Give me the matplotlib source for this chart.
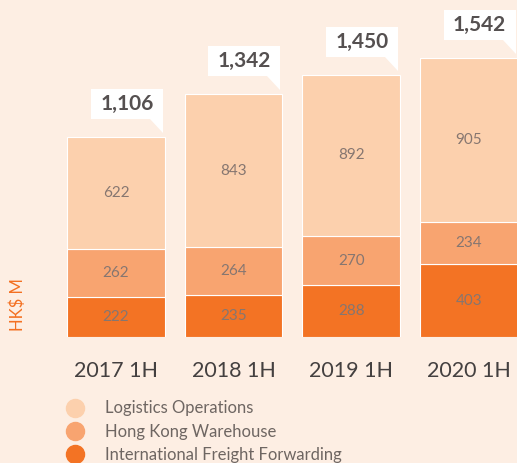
import numpy as np
import matplotlib.pyplot as plt
from matplotlib.patches import Polygon
from matplotlib.lines import Line2D

plt.rcParams['font.family'] = ['Lato', 'DejaVu Sans']

periods = ['2017 1H', '2018 1H', '2019 1H', '2020 1H']
freight = [222, 235, 288, 403]
warehouse = [262, 264, 270, 234]
logistics = [622, 843, 892, 905]
series_names = ['Logistics Operations', 'Hong Kong Warehouse', 'International Freight Forwarding']

bg = '#FDEEE3'
c_log = '#FCD0AD'
c_wh = '#F8A470'
c_ff = '#F37324'

fig = plt.figure(figsize=(5.17, 4.63), dpi=100, facecolor=bg)
# axes spans full width, from y=337px (bar base) up to the top edge
ax = fig.add_axes([0, (463 - 337) / 463, 1, 337 / 463])
ax.set_facecolor(bg)

x = np.arange(len(periods))
w = 0.83
totals = [a + b + c for a, b, c in zip(freight, warehouse, logistics)]

ax.bar(x, freight, w, color=c_ff, edgecolor='white', linewidth=0.8)
ax.bar(x, warehouse, w, bottom=freight, color=c_wh, edgecolor='white', linewidth=0.8)
bot2 = [a + b for a, b in zip(freight, warehouse)]
ax.bar(x, logistics, w, bottom=bot2, color=c_log, edgecolor='white', linewidth=0.8)

for i in range(len(periods)):
    for val, base in [(freight[i], 0), (warehouse[i], freight[i]), (logistics[i], bot2[i])]:
        ax.text(x[i], base + val / 2, str(val), ha='center', va='center',
                fontsize=11, color='#867670')

# callout boxes with totals
bw, bh = 0.612, 166
gap, tail = 100, 77
for i, t in enumerate(totals):
    right = x[i] + w / 2 - 0.017
    left = right - bw
    y0 = t + gap
    ax.add_patch(Polygon([(left, y0), (right, y0), (right, y0 + bh), (left, y0 + bh)],
                         closed=True, facecolor='white', edgecolor='none', zorder=5))
    ax.add_patch(Polygon([(right - 0.11, y0 + 1), (right, y0 + 1), (right, y0 - tail)],
                         closed=True, facecolor='white', edgecolor='none', zorder=5))
    ax.text((left + right) / 2, y0 + bh / 2, f'{t:,}', ha='center', va='center',
            fontsize=15, fontweight='bold', color='#555050', zorder=6)

ax.set_xlim(-0.986, 3.41)
ax.set_ylim(0, 1864)
for s in ax.spines.values():
    s.set_visible(False)
ax.set_yticks([])
ax.set_xticks(x)
ax.set_xticklabels(periods, fontsize=15.5, color='#444040')
ax.tick_params(axis='x', length=0, pad=17)

fig.text(0.034, (463 - 305) / 463, 'HK$ M', rotation=90, ha='center',
         va='center', fontsize=12, color='#F37021')

handles = [Line2D([], [], marker='o', linestyle='none', markersize=13, color=c)
           for c in [c_log, c_wh, c_ff]]
fig.legend(handles, series_names, loc='upper left', bbox_to_anchor=(0.11, 1 - 392 / 463),
           frameon=False, fontsize=12, labelcolor='#6e6662', handletextpad=1.2,
           labelspacing=0.44, borderpad=0, handlelength=1.2)

fig.savefig('out.png', dpi=100, facecolor=bg)
